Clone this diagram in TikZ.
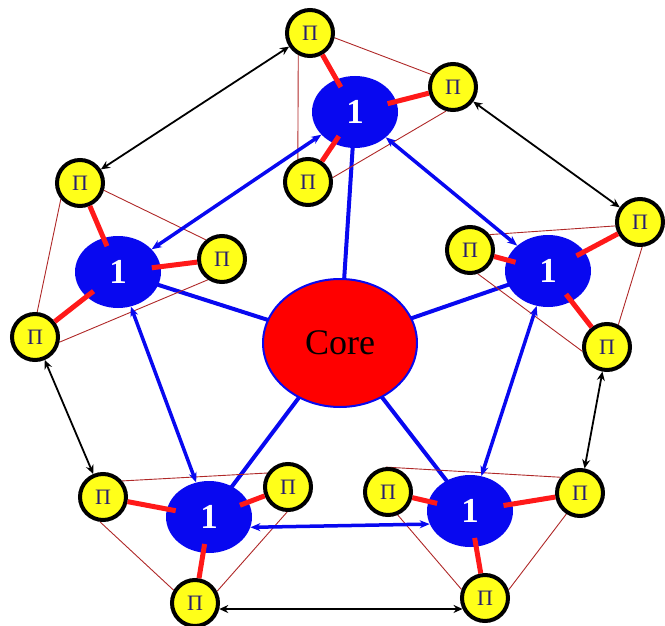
\documentclass[tikz,border=0pt]{standalone}
\usepackage{fontspec}
\setmainfont{Liberation Serif}
\usetikzlibrary{arrows.meta,backgrounds,shapes.geometric}
\definecolor{hubblue}{RGB}{8,8,240}
\definecolor{corered}{RGB}{255,0,0}
\definecolor{piyellow}{RGB}{255,255,25}
\definecolor{linkred}{RGB}{255,25,25}
\definecolor{thinred}{RGB}{175,40,40}
\definecolor{pitext}{RGB}{40,30,110}

\begin{document}
\begin{tikzpicture}[x=1pt,y=-1pt,
  core/.style={ellipse, draw=hubblue, line width=2pt, fill=corered,
    minimum width=154pt, minimum height=128pt, inner sep=0pt,
    font=\fontsize{36}{38}\selectfont},
  hub/.style={ellipse, fill=hubblue, minimum width=86pt, minimum height=72pt,
    inner sep=0pt, text=white, font=\fontsize{35}{36}\selectfont\bfseries},
  pinode/.style={circle, draw=black, line width=4pt, fill=piyellow,
    minimum size=46pt, inner sep=0pt, text=pitext,
    font=\fontsize{22}{24}\selectfont},
  spoke/.style={draw=hubblue, line width=4pt},
  ring/.style={draw=hubblue, line width=3.5pt,
    {Stealth[length=10pt,width=8pt]}-{Stealth[length=10pt,width=8pt]}},
  outer/.style={draw=black, line width=1.8pt,
    {Stealth[length=9pt,width=8pt]}-{Stealth[length=9pt,width=8pt]}},
  tie/.style={draw=linkred, line width=5pt, shorten >=-9pt},
  mesh/.style={draw=thinred, line width=0.9pt}]

\useasboundingbox (0,0) rectangle (665,626);

% central node and the five hubs
\node[core] (C) at (340,343) {Core};
\node[hub] (T)  at (355,112) {1};
\node[hub] (L)  at (118,272) {1};
\node[hub] (R)  at (548,271) {1};
\node[hub] (BL) at (209,517) {1};
\node[hub] (BR) at (470,511) {1};

% satellites of each hub
\node[pinode] (t1) at (310,33)  {Π};
\node[pinode] (t2) at (453,87)  {Π};
\node[pinode] (t3) at (308,182) {Π};
\node[pinode] (l1) at (80,183)  {Π};
\node[pinode] (l2) at (222,259) {Π};
\node[pinode] (l3) at (35,337)  {Π};
\node[pinode] (r1) at (640,222) {Π};
\node[pinode] (r2) at (470,250) {Π};
\node[pinode] (r3) at (607,347) {Π};
\node[pinode] (bl1) at (103,497) {Π};
\node[pinode] (bl2) at (288,487) {Π};
\node[pinode] (bl3) at (195,603) {Π};
\node[pinode] (br1) at (388,492) {Π};
\node[pinode] (br2) at (580,493) {Π};
\node[pinode] (br3) at (485,598) {Π};

\begin{scope}[on background layer]
  % spokes from the core
  \foreach \h in {T,L,R,BL,BR} \draw[spoke] (C.center) -- (\h.center);
  % thin triangles inside each group
  \draw[mesh] (t1.-11) -- (t2.150);
  \draw[mesh] (t1.-118) -- (t3.114);
  \draw[mesh] (t3.10) -- (t2.-106);
  \draw[mesh] (l1.-17) -- (l2.130);
  \draw[mesh] (l1.-140) -- (l3.85);
  \draw[mesh] (l3.-12) -- (l2.-124);
  \draw[mesh] (r2.38) -- (r1.189);
  \draw[mesh] (r1.-85) -- (r3.63);
  \draw[mesh] (r2.-72) -- (r3.190);
  \draw[mesh] (bl1.40) -- (bl2.146);
  \draw[mesh] (bl1.-97) -- (bl3.149);
  \draw[mesh] (bl2.-92) -- (bl3.28);
  \draw[mesh] (br1.95) -- (br2.141);
  \draw[mesh] (br1.-67) -- (br3.160);
  \draw[mesh] (br2.-123) -- (br3.19);
\end{scope}

% ties between satellites and their hub
\foreach \p/\h in {t1/T,t2/T,t3/T,l1/L,l2/L,l3/L,r1/R,r2/R,r3/R,
                   bl1/BL,bl2/BL,bl3/BL,br1/BR,br2/BR,br3/BR}
  \draw[tie] (\p) -- (\h);

% ring of hubs
\draw[ring] (T) -- (L);
\draw[ring] (T) -- (R);
\draw[ring] (L) -- (BL);
\draw[ring] (R) -- (BR);
\draw[ring] (BL.-14) -- (BR.198);

% outer ring between neighbouring groups
\draw[outer] (t1) -- (l1);
\draw[outer] (t2) -- (r1);
\draw[outer] (l3) -- (bl1);
\draw[outer] (r3) -- (br2);
\draw[outer] (bl3.-14) -- (br3.206);
\end{tikzpicture}
\end{document}
